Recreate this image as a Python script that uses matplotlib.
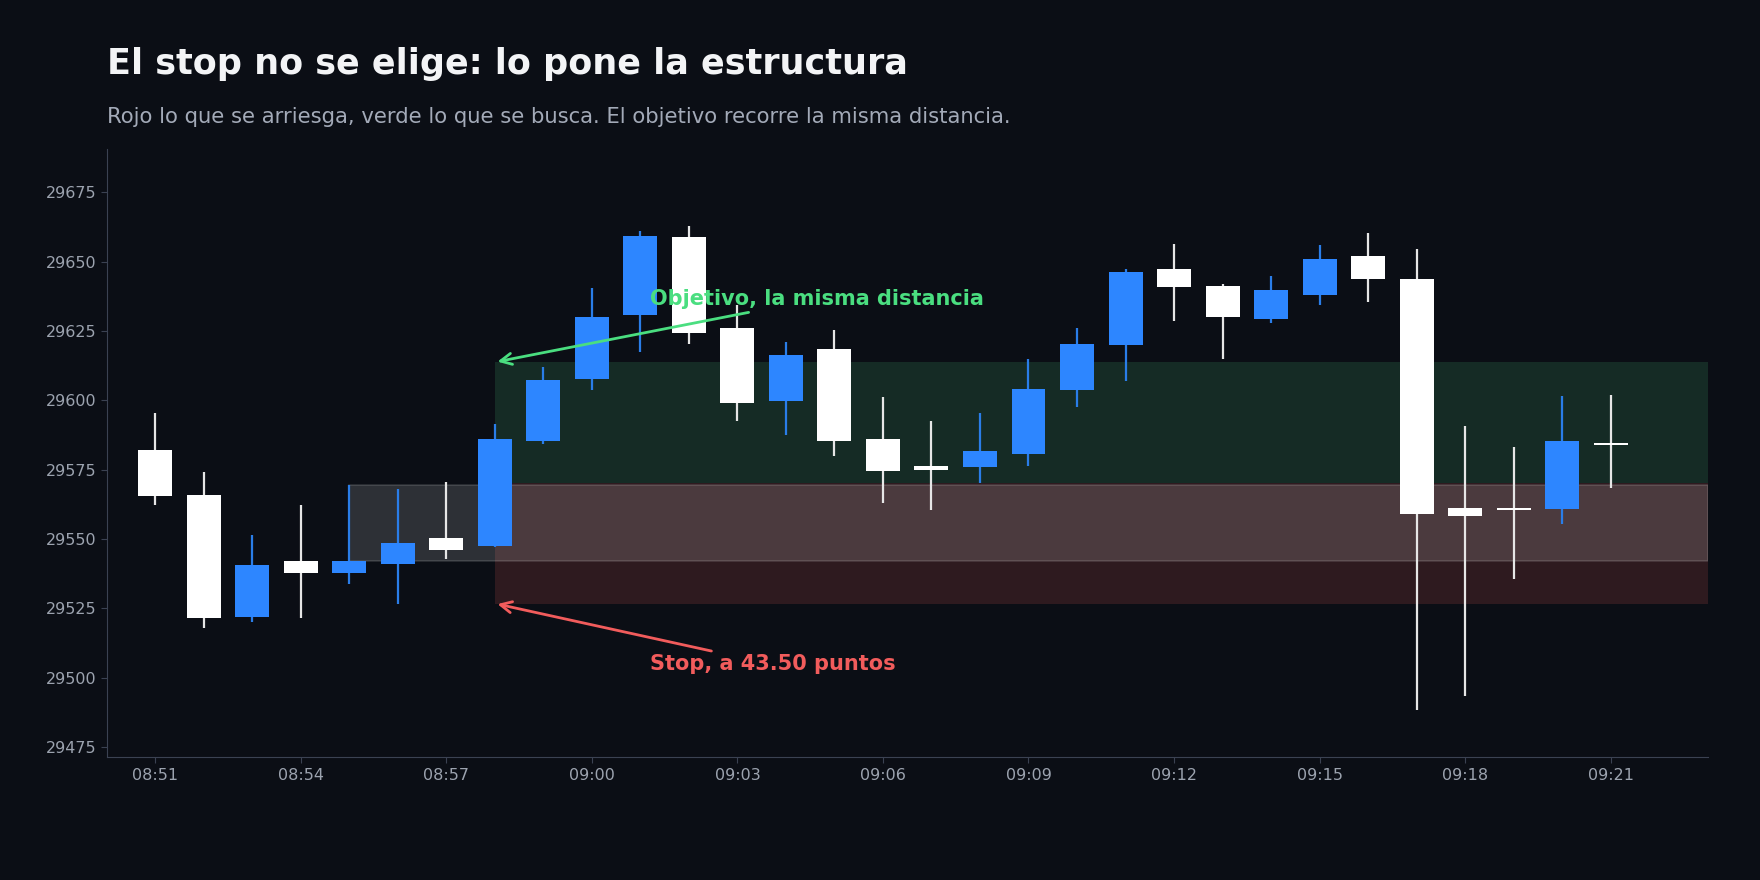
import numpy as np
import matplotlib.pyplot as plt
from matplotlib.patches import Rectangle

# Velas de 1 minuto (blanco = bajista, azul = alcista)
times = ["08:51", "08:52", "08:53", "08:54", "08:55", "08:56", "08:57", "08:58",
         "08:59", "09:00", "09:01", "09:02", "09:03", "09:04", "09:05", "09:06",
         "09:07", "09:08", "09:09", "09:10", "09:11", "09:12", "09:13", "09:14",
         "09:15", "09:16", "09:17", "09:18", "09:19", "09:20", "09:21"]
opens = [29582.1, 29565.9, 29522.0, 29542.1, 29537.9, 29541.1, 29550.4, 29547.6,
         29585.5, 29607.8, 29630.9, 29658.9, 29626.1, 29599.9, 29618.5, 29586.1,
         29576.3, 29576.1, 29580.8, 29603.8, 29620.1, 29647.4, 29641.2, 29629.4,
         29637.8, 29652.0, 29643.8, 29561.2, 29560.9, 29560.9, 29584.5]
highs = [29595.4, 29574.2, 29551.4, 29562.3, 29569.4, 29568.0, 29570.6, 29591.5,
         29612.0, 29640.5, 29661.1, 29662.9, 29634.4, 29621.0, 29625.4, 29601.2,
         29592.5, 29595.4, 29614.9, 29626.1, 29647.4, 29656.4, 29641.9, 29644.8,
         29656.0, 29660.4, 29654.6, 29590.7, 29583.2, 29601.6, 29601.9]
lows = [29562.4, 29518.0, 29520.2, 29521.6, 29533.9, 29526.7, 29542.9, 29547.2,
        29584.4, 29603.8, 29617.5, 29620.4, 29592.7, 29587.6, 29580.0, 29563.1,
        29560.6, 29570.3, 29576.4, 29597.7, 29607.1, 29628.7, 29615.0, 29628.0,
        29634.5, 29635.6, 29488.5, 29493.5, 29535.7, 29555.5, 29568.5]
closes = [29565.6, 29521.6, 29540.6, 29537.9, 29542.1, 29548.6, 29546.2, 29586.1,
          29607.3, 29630.0, 29659.3, 29624.4, 29599.2, 29616.3, 29585.5, 29574.6,
          29575.0, 29581.7, 29604.1, 29620.3, 29646.3, 29641.0, 29630.2, 29639.8,
          29651.0, 29643.9, 29559.1, 29558.4, 29560.3, 29585.3, 29583.8]

# estructura (08:55-08:57) y operacion
struct_start = 4
struct_low, struct_high = 29542.0, 29569.3
entry_idx = 7
entry = 29570.25
stop = 29526.75
target = 29613.75

BG = "#0b0e15"
BLUE = "#2d86ff"
WHITE = "#ffffff"
GREEN = "#4ade80"
RED = "#f25c5c"
GRID = "#3b4252"
TICK = "#9ca3af"

o = np.array(opens)
h = np.array(highs)
l = np.array(lows)
c = np.array(closes)
x = np.arange(len(times))
up = c >= o

fig = plt.figure(figsize=(17.6, 8.8), dpi=100, facecolor=BG)
ax = fig.add_axes([0.0606, 0.1394, 0.9097, 0.6913])
ax.set_facecolor(BG)

x_end = len(times) + 1
# zonas de riesgo / beneficio
ax.add_patch(Rectangle((entry_idx, entry), x_end - entry_idx, target - entry,
                       facecolor="#152b25", edgecolor="none", zorder=1))
ax.add_patch(Rectangle((entry_idx, stop), x_end - entry_idx, entry - stop,
                       facecolor="#2e1a1f", edgecolor="none", zorder=1))
# caja de la estructura
ax.add_patch(Rectangle((struct_start, struct_low), x_end - struct_start,
                       struct_high - struct_low, facecolor=(1, 1, 1, 0.14),
                       edgecolor=(1, 1, 1, 0.14), lw=1.2, zorder=2))

colors = np.where(up, BLUE, WHITE)
wick_colors = np.where(up, "#2a7de8", "#e6e6e6")
ax.vlines(x, l, h, colors=wick_colors, lw=1.6, zorder=3)
body_h = np.maximum(np.abs(c - o), 0.7)
ax.bar(x, body_h, bottom=np.minimum(o, c), width=0.7, color=colors,
       edgecolor="none", zorder=4)

ax.annotate("Objetivo, la misma distancia", xy=(entry_idx, target),
            xytext=(10.19, 29636.5), ha="left", va="center", color=GREEN,
            fontsize=15, fontweight="bold", zorder=6,
            arrowprops=dict(arrowstyle="->", color=GREEN, lw=2, mutation_scale=20))
ax.annotate("Stop, a 43.50 puntos", xy=(entry_idx, stop),
            xytext=(10.19, 29504.8), ha="left", va="center", color=RED,
            fontsize=15, fontweight="bold", zorder=6,
            arrowprops=dict(arrowstyle="->", color=RED, lw=2, mutation_scale=20))

ax.set_xlim(-1, x_end)
ax.set_ylim(29471.3, 29690.6)
ax.set_xticks(x[::3])
ax.set_xticklabels(times[::3])
ax.set_yticks(np.arange(29475, 29680, 25))
ax.tick_params(colors=GRID, labelcolor=TICK, labelsize=11.5, length=4)
for side in ["top", "right"]:
    ax.spines[side].set_visible(False)
for side in ["left", "bottom"]:
    ax.spines[side].set_color(GRID)

fig.text(0.0606, 0.927, "El stop no se elige: lo pone la estructura",
         color="#f3f4f6", fontsize=25.2, fontweight="bold", va="center", ha="left")
fig.text(0.0606, 0.867,
         "Rojo lo que se arriesga, verde lo que se busca. El objetivo recorre la misma distancia.",
         color="#a3aab8", fontsize=15.2, va="center", ha="left")

fig.savefig("out.png", dpi=100, facecolor=BG)
